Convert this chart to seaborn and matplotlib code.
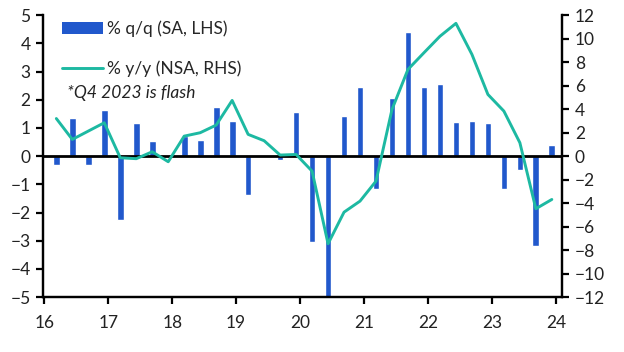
import numpy as np
import pandas as pd
import matplotlib
matplotlib.use("Agg")
import matplotlib.pyplot as plt
import seaborn as sns
from matplotlib.patches import Patch
from matplotlib.lines import Line2D

sns.set_theme(style="white")
plt.rcParams['font.family'] = ['Lato', 'DejaVu Sans']

# quarterly data 2016Q1 - 2023Q4
years = np.repeat(np.arange(2016, 2024), 4)
quarters = np.tile([1, 2, 3, 4], 8)
qoq = [-0.3, 1.34, -0.3, 1.62,
       -2.27, 1.16, 0.52, 0.0,
       0.73, 0.56, 1.73, 1.23,
       -1.38, 0.0, -0.15, 1.55,
       -3.05, -5.0, 1.44, 2.44,
       -1.18, 2.05, 4.39, 2.44,
       2.55, 1.2, 1.23, 1.16,
       -1.15, -0.5, -3.2, 0.39]
yoy = [3.2, 1.42, 2.13, 2.84,
       -0.14, -0.22, 0.37, -0.48,
       1.7, 1.99, 2.64, 4.74,
       1.85, 1.31, 0.09, 0.14,
       -1.28, -7.46, -4.77, -3.83,
       -2.13, 3.97, 7.38, 8.8,
       10.2, 11.3, 8.66, 5.25,
       3.83, 1.14, -4.48, -3.69]
year_ticks = list(range(2016, 2025))
year_labels = [str(y)[2:] for y in year_ticks]

df = pd.DataFrame({'t': years + (quarters - 0.25) / 4, 'qoq': qoq, 'yoy': yoy})

bar_col = '#2158CC'
line_col = '#1DB9A2'
fs = 12.5

fig = plt.figure(figsize=(6.24, 3.52), dpi=100)
ax = fig.add_axes([0.069, 0.156, 0.832, 0.801])

sns.barplot(data=df, x='t', y='qoq', native_scale=True, width=0.42,
            color=bar_col, saturation=1, ax=ax)
ax.axhline(0, color='black', lw=2, zorder=3)
ax.set_ylim(-5, 5)
ax.set_yticks(range(-5, 6))
ax.set_xlim(2015.98, 2024.1)
ax.set_xticks(year_ticks)
ax.set_xticklabels(year_labels)
ax.set_xlabel('')
ax.set_ylabel('')

ax2 = ax.twinx()
sns.lineplot(data=df, x='t', y='yoy', color=line_col, lw=2.1, ax=ax2)
ax2.set_ylim(-12, 12)
ax2.set_yticks(range(-12, 13, 2))
ax2.set_xlabel('')
ax2.set_ylabel('')

for a in (ax, ax2):
    a.spines['top'].set_visible(False)
    for s in ('left', 'right', 'bottom'):
        a.spines[s].set_color('black')
        a.spines[s].set_linewidth(1.6)
    a.tick_params(axis='both', direction='out', length=5, width=1.6,
                  colors='black', labelsize=fs, pad=4)
ax.tick_params(axis='x', pad=8)
ax.tick_params(axis='y', left=True)
ax.tick_params(axis='x', bottom=True)
ax2.tick_params(axis='y', right=True)
for lab in ax.get_xticklabels() + ax.get_yticklabels() + ax2.get_yticklabels():
    lab.set_color('#222222')

handles = [Patch(facecolor=bar_col, edgecolor='none'),
           Line2D([0], [0], color=line_col, lw=2.1)]
leg = ax2.legend(handles, ['% q/q (SA, LHS)', '% y/y (NSA, RHS)'],
                 loc='upper left', bbox_to_anchor=(0.036, 0.98), frameon=False,
                 fontsize=fs, handlelength=2.35, handleheight=0.65,
                 labelspacing=1.35, handletextpad=0.25,
                 borderpad=0, borderaxespad=0)
ax2.text(0.046, 0.725, '*Q4 2023 is flash', transform=ax.transAxes,
         fontsize=fs, style='italic', color='#222222', va='center')

fig.savefig('out.png', dpi=100)
